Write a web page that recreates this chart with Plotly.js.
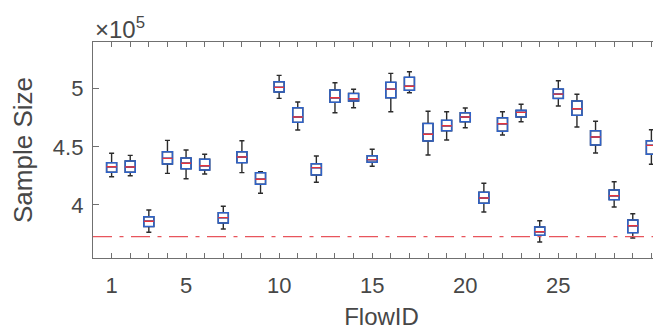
<!DOCTYPE html>
<html>
<head>
<meta charset="utf-8">
<script src="https://cdn.plot.ly/plotly-3.0.1.min.js"></script>
<style>
html, body { margin: 0; padding: 0; overflow: hidden; background: #fff; width: 653px; height: 336px; }
#chart { width: 690px; height: 336px; }
</style>
</head>
<body>
<div id="chart"></div>
<script>
// Flow IDs (x categories)
const flowIds = [1,2,3,4,5,6,7,8,9,10,11,12,13,14,15,16,17,18,19,20,21,22,23,24,25,26,27,28,29,30];
// Box statistics (sample size)
const lowerWhisker = [4.243e5,4.252e5,3.765e5,4.272e5,4.226e5,4.267e5,3.794e5,4.278e5,4.101e5,4.917e5,
                      4.645e5,4.195e5,4.794e5,4.837e5,4.333e5,4.802e5,4.966e5,4.430e5,4.559e5,4.665e5,
                      3.940e5,4.602e5,4.716e5,3.682e5,4.851e5,4.671e5,4.447e5,3.983e5,3.716e5,4.350e5];
const q1Values     = [4.281e5,4.281e5,3.814e5,4.353e5,4.312e5,4.301e5,3.845e5,4.364e5,4.178e5,4.972e5,
                      4.711e5,4.258e5,4.883e5,4.894e5,4.367e5,4.923e5,4.986e5,4.550e5,4.639e5,4.716e5,
                      4.015e5,4.634e5,4.757e5,3.739e5,4.917e5,4.771e5,4.516e5,4.046e5,3.762e5,4.436e5];
const medianValues = [4.329e5,4.327e5,3.860e5,4.401e5,4.359e5,4.338e5,3.891e5,4.413e5,4.221e5,5.012e5,
                      4.757e5,4.321e5,4.923e5,4.914e5,4.390e5,4.997e5,5.021e5,4.608e5,4.682e5,4.757e5,
                      4.060e5,4.699e5,4.797e5,3.770e5,4.954e5,4.828e5,4.585e5,4.080e5,3.822e5,4.513e5];
const q3Values     = [4.364e5,4.378e5,3.899e5,4.458e5,4.404e5,4.393e5,3.934e5,4.458e5,4.278e5,5.060e5,
                      4.837e5,4.355e5,4.989e5,4.960e5,4.424e5,5.055e5,5.098e5,4.702e5,4.728e5,4.794e5,
                      4.109e5,4.751e5,4.814e5,3.811e5,4.997e5,4.894e5,4.639e5,4.129e5,3.871e5,4.553e5];
const upperWhisker = [4.445e5,4.427e5,3.957e5,4.556e5,4.473e5,4.436e5,3.989e5,4.553e5,4.286e5,5.115e5,
                      4.886e5,4.421e5,5.052e5,4.995e5,4.479e5,5.132e5,5.146e5,4.806e5,4.802e5,4.834e5,
                      4.187e5,4.802e5,4.866e5,3.865e5,5.069e5,4.952e5,4.720e5,4.200e5,3.925e5,4.647e5];
// Reference threshold (dash-dot line)
const thresholdValue = 3.728e5;
// Tick labels
const xTickLabelsShown = [1,5,10,15,20,25];
const yTickValues = [4e5, 4.5e5, 5e5];
const yTickLabels = ['4', '4.5', '5'];

const AXIS = '#707070', TEXT = '#474747';
const BOXW = 0.54;

const common = {type:'box', x: flowIds, width: BOXW, hoverinfo:'skip', showlegend:false, boxpoints:false};

const whiskers = Object.assign({}, common, {
  q1: q1Values, median: medianValues, q3: q3Values,
  lowerfence: lowerWhisker, upperfence: upperWhisker,
  line: {color:'#2b2b2b', width:1.4}, fillcolor:'#ffffff', whiskerwidth:0.5
});
const boxes = Object.assign({}, common, {
  q1: q1Values, median: medianValues, q3: q3Values,
  lowerfence: q1Values, upperfence: q3Values,
  line: {color:'#2f62c8', width:1.5}, fillcolor:'rgba(255,255,255,0)', whiskerwidth:0
});
const medians = Object.assign({}, common, {
  q1: medianValues, median: medianValues, q3: medianValues,
  lowerfence: medianValues, upperfence: medianValues,
  line: {color:'#e8343c', width:1.4}, fillcolor:'rgba(255,255,255,0)', whiskerwidth:0
});
const xr = [0, 31];
const threshold = {
  type:'scatter', mode:'lines', x: xr, y: [thresholdValue, thresholdValue],
  line:{color:'#e8555c', width:1.4, dash:'19px,7.5px,4px,7.5px'},
  hoverinfo:'skip', showlegend:false, cliponaxis:true
};

const layout = {
  width: 690, height: 336,
  margin: {l: 93, r: 690 - 93 - 31*18.6, t: 42, b: 78},
  paper_bgcolor:'#ffffff', plot_bgcolor:'#ffffff',
  boxmode:'overlay',
  font: {family:'"Liberation Sans", Arial, sans-serif', color: TEXT},
  xaxis: {
    range: xr, tickmode:'array', tickvals: flowIds,
    ticktext: flowIds.map(v => xTickLabelsShown.includes(v) ? String(v) : ' '),
    ticks:'inside', ticklen:5, tickwidth:1, tickcolor:AXIS,
    showline:true, linecolor:AXIS, linewidth:1.2, mirror:'ticks',
    showgrid:false, zeroline:false,
    tickfont:{size:22, color:TEXT}, ticklabelstandoff: 7,
    title:{text:'FlowID', font:{size:24, color:TEXT}, standoff: 11}
  },
  yaxis: {
    range: [354400, 540200], tickmode:'array', tickvals: yTickValues, ticktext: yTickLabels,
    ticks:'inside', ticklen:6, tickwidth:1, tickcolor:AXIS,
    showline:true, linecolor:AXIS, linewidth:1.2, mirror:'ticks',
    showgrid:false, zeroline:false,
    tickfont:{size:22, color:TEXT}, ticklabelstandoff: 4,
    title:{text:'Sample Size', font:{size:26, color:TEXT}, standoff: 12}
  },
  annotations: [{
    xref:'paper', yref:'paper', x:0, y:1, xanchor:'left', yanchor:'bottom',
    xshift: 0, yshift: -3, showarrow:false,
    text:'×10<sup>5</sup>', font:{size:24, color:TEXT}
  }]
};

Plotly.newPlot('chart', [threshold, whiskers, boxes, medians], layout, {staticPlot:true, displayModeBar:false});
</script>
</body>
</html>
